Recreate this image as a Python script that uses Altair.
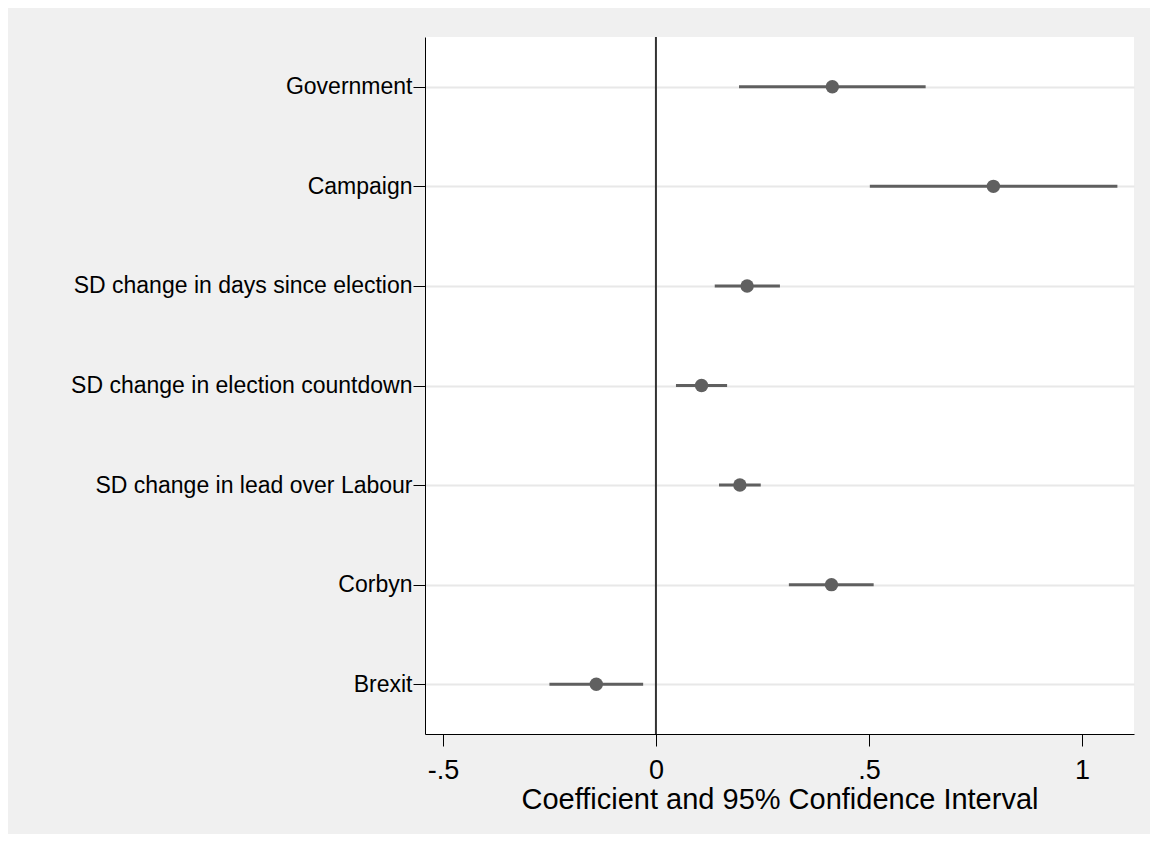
import altair as alt
import pandas as pd

labels = [
    "Government",
    "Campaign",
    "SD change in days since election",
    "SD change in election countdown",
    "SD change in lead over Labour",
    "Corbyn",
    "Brexit",
]
coef = [0.414, 0.792, 0.214, 0.107, 0.197, 0.412, -0.140]
lo = [0.195, 0.502, 0.138, 0.047, 0.148, 0.312, -0.250]
hi = [0.633, 1.083, 0.291, 0.167, 0.246, 0.511, -0.030]
x_ticks = [-0.5, 0, 0.5, 1]

df = pd.DataFrame({"label": labels, "coef": coef, "lo": lo, "hi": hi})
zero = pd.DataFrame({"z": [0.0]})

FONT = "Liberation Sans"

x_scale = alt.Scale(domain=[-0.542, 1.122], nice=False, zero=False)
y_scale = alt.Scale(type="point", padding=0.5, domain=labels)

x_axis = alt.Axis(
    values=x_ticks,
    labelExpr="datum.value == -0.5 ? '-.5' : datum.value == 0.5 ? '.5' : datum.value == 0 ? '0' : '1'",
    title="Coefficient and 95% Confidence Interval",
    titleFontSize=29,
    titleFontWeight="normal",
    titleColor="black",
    titleFont=FONT,
    titlePadding=2,
    labelFontSize=27,
    labelFont=FONT,
    labelColor="black",
    labelPadding=11,
    tickSize=12,
    tickColor="black",
    domainColor="black",
    domainWidth=1,
    grid=False,
    labelFlush=False,
)
y_axis = alt.Axis(
    title=None,
    labelFontSize=23,
    labelFont=FONT,
    labelColor="black",
    labelPadding=1,
    tickSize=12,
    tickColor="black",
    domainColor="black",
    domainWidth=1,
    grid=True,
    gridColor="#e8e8e8",
    gridWidth=2,
    labelLimit=600,
)

base = alt.Chart(df)

ci = base.mark_rule(color="#5f5f5f", strokeWidth=3).encode(
    y=alt.Y("label:N", scale=y_scale, axis=y_axis, sort=labels),
    x=alt.X("lo:Q", scale=x_scale, axis=x_axis),
    x2="hi:Q",
)

zero_rule = alt.Chart(zero).mark_rule(color="#333333", strokeWidth=2).encode(
    x=alt.X("z:Q", scale=x_scale, axis=x_axis),
)

pts = base.mark_circle(color="#606060", size=180, opacity=1).encode(
    y=alt.Y("label:N", scale=y_scale, axis=y_axis, sort=labels),
    x=alt.X("coef:Q", scale=x_scale, axis=x_axis),
)

chart = (
    alt.layer(ci, zero_rule, pts)
    .properties(
        width=709,
        height=697,
        background="#f0f0f0",
        autosize=alt.AutoSizeParams(type="none"),
        padding={"left": 417, "top": 29, "right": 16, "bottom": 100},
    )
    .configure_view(fill="white", stroke=None)
)

chart.save("out.html", embed_options={"renderer": "svg", "actions": False})
